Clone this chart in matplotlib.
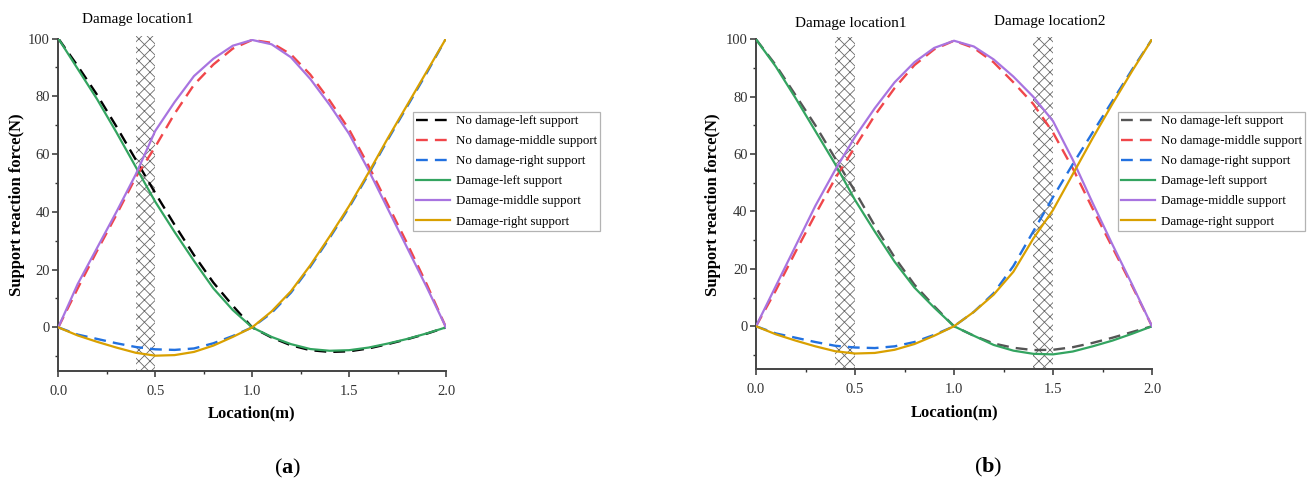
import numpy as np
import matplotlib.pyplot as plt
from matplotlib.patches import Rectangle

plt.rcParams['font.family'] = 'Liberation Serif'
plt.rcParams['mathtext.fontset'] = 'custom'
plt.rcParams['mathtext.rm'] = 'Liberation Serif'
plt.rcParams['mathtext.bf'] = 'Liberation Serif:bold'
plt.rcParams['hatch.linewidth'] = 0.6
plt.rcParams['hatch.color'] = '#6a6a6a'

# load position along the beam (m)
location = [0.0, 0.1, 0.2, 0.3, 0.4, 0.5, 0.6, 0.7, 0.8, 0.9, 1.0,
            1.1, 1.2, 1.3, 1.4, 1.5, 1.6, 1.7, 1.8, 1.9, 2.0]

# (a) one damaged zone
a_nd_left = [100, 90.5, 80.5, 69.5, 58, 46.5, 35.5, 25, 15.5, 7.5, 0,
             -3.5, -6.2, -7.9, -8.5, -8.3, -7.3, -5.8, -4.1, -2.2, 0]
a_nd_mid = [0, 13.5, 26.5, 39, 52, 62.5, 74, 84, 91, 96.5, 99.5,
            98.5, 94.5, 87.5, 78.5, 68.5, 56, 42.5, 29, 15, 0]
a_nd_right = [0, -2.5, -4, -5.5, -6.8, -7.6, -7.8, -7.3, -5.5, -3, 0,
              5, 12, 21, 31, 41.5, 53, 65, 76.5, 88, 100]
a_dm_left = [100, 89.5, 79, 67.5, 55.5, 43.5, 33, 23, 13.5, 6, 0,
             -3.3, -5.8, -7.5, -8.1, -7.9, -7.0, -5.6, -4.0, -2.1, 0]
a_dm_mid = [0, 15, 27.5, 40, 53, 68, 78, 87, 93, 97.5, 99.5,
            98, 93.5, 86, 77, 67, 54.5, 41, 27.5, 14, 0]
a_dm_right = [0, -2.8, -5, -7, -8.8, -9.8, -9.6, -8.5, -6.3, -3.3, 0,
              5.5, 12.5, 21.5, 31.5, 42, 53.5, 65.5, 77, 88.5, 100]

# (b) two damaged zones
b_nd_left = [100, 91, 80.5, 70, 58.5, 47, 35, 24, 14.5, 7, 0,
             -3.3, -6, -7.5, -8.3, -8.2, -7.3, -5.8, -4, -2, 0]
b_nd_mid = [0, 12.5, 26, 39, 51.5, 62.5, 73.5, 83, 91, 96.5, 99.5,
            97, 92, 85, 77.5, 67.5, 55, 41, 27.5, 14, 0]
b_nd_right = [0, -2.5, -4, -5.5, -6.8, -7.4, -7.6, -7, -5.5, -3, 0,
              5, 11.5, 21, 33, 45, 56.5, 67.5, 78.5, 89.5, 100]
b_dm_left = [100, 90.5, 79.5, 68, 56.5, 44, 33, 22.5, 13.5, 6.5, 0,
             -3.3, -6.5, -8.5, -9.6, -9.8, -8.8, -7, -5, -2.6, 0]
b_dm_mid = [0, 14, 28, 42, 54.5, 66, 76, 85, 92, 97, 99.5,
            97.5, 93, 87, 80, 71.5, 58, 43, 28.5, 14.5, 0]
b_dm_right = [0, -2.8, -5, -7, -8.7, -9.5, -9.3, -8.2, -6.2, -3.3, 0,
              5, 11, 19, 30.5, 40.5, 53, 65.5, 77.5, 89, 100]

labels = ['No damage-left support', 'No damage-middle support', 'No damage-right support',
          'Damage-left support', 'Damage-middle support', 'Damage-right support']
col_red = '#f0464a'
col_blue = '#2271e0'
col_green = '#33a460'
col_purple = '#a874e0'
col_gold = '#d9a000'

W, H = 1313, 484
fig = plt.figure(figsize=(W / 100, H / 100), dpi=100)


def px_axes(x0, x1, y0, y1):
    return fig.add_axes([x0 / W, 1 - y1 / H, (x1 - x0) / W, (y1 - y0) / H])


def draw_panel(ax, nd, dm, left_col, zones):
    # damaged zones first so curves sit on top
    for z0, z1 in zones:
        ax.add_patch(Rectangle((z0, -15), z1 - z0, 115.7, facecolor='none',
                               edgecolor='#6a6a6a', hatch='xxx', linewidth=0,
                               zorder=1, clip_on=False))
    ds = (0, (5, 3))
    ax.plot(location, nd[0], color=left_col, ls=ds, lw=1.7, label=labels[0], zorder=2)
    ax.plot(location, nd[1], color=col_red, ls=ds, lw=1.7, label=labels[1], zorder=2)
    ax.plot(location, nd[2], color=col_blue, ls=ds, lw=1.7, label=labels[2], zorder=2)
    ax.plot(location, dm[0], color=col_green, lw=1.6, label=labels[3], zorder=3)
    ax.plot(location, dm[1], color=col_purple, lw=1.6, label=labels[4], zorder=3)
    ax.plot(location, dm[2], color=col_gold, lw=1.6, label=labels[5], zorder=3)

    ax.set_xlim(0, 2)
    ax.set_ylim(-15, 100)
    ax.set_xticks([0, 0.5, 1.0, 1.5, 2.0])
    ax.set_xticks([0.25, 0.75, 1.25, 1.75], minor=True)
    ax.set_yticks([0, 20, 40, 60, 80, 100])
    ax.set_yticks([-10, 10, 30, 50, 70, 90], minor=True)
    ax.set_xticklabels(['0.0', '0.5', '1.0', '1.5', '2.0'], fontsize=10.5, color='#333333')
    ax.set_yticklabels(['0', '20', '40', '60', '80', '100'], fontsize=10.5, color='#333333')
    for s in ['top', 'right']:
        ax.spines[s].set_visible(False)
    for s in ['left', 'bottom']:
        ax.spines[s].set_linewidth(1.4)
        ax.spines[s].set_color('#444444')
    ax.tick_params(which='major', direction='out', length=4, width=1.1, color='#333333')
    ax.tick_params(which='minor', direction='out', length=2.5, width=1.0, color='#333333')
    ax.tick_params(axis='x', pad=6)
    ax.tick_params(axis='y', pad=2)


ax1 = px_axes(58.3, 446, 38.5, 370.7)
draw_panel(ax1, [a_nd_left, a_nd_mid, a_nd_right], [a_dm_left, a_dm_mid, a_dm_right],
           '#000000', [(0.4, 0.5)])
ax2 = px_axes(756, 1152, 39.3, 369.3)
draw_panel(ax2, [b_nd_left, b_nd_mid, b_nd_right], [b_dm_left, b_dm_mid, b_dm_right],
           '#555555', [(0.4, 0.5), (1.4, 1.5)])

for ax, lx in [(ax1, 413), (ax2, 1118)]:
    leg = ax.legend(loc='upper left', bbox_to_anchor=(lx / W, 1 - 112 / H),
                    bbox_transform=fig.transFigure, fontsize=9.3, frameon=True,
                    fancybox=False, borderpad=0.25, borderaxespad=0,
                    labelspacing=0.62, handlelength=2.6, handletextpad=0.45)
    leg.get_frame().set_edgecolor('#a0a0a0')
    leg.get_frame().set_linewidth(0.9)

# axis titles
fig.text(252 / W, 1 - 413 / H, 'Location(m)', ha='center', va='center',
         fontsize=12, fontweight='bold')
fig.text(955 / W, 1 - 412 / H, 'Location(m)', ha='center', va='center',
         fontsize=12, fontweight='bold')
fig.text(17 / W, 1 - 205 / H, 'Support reaction force(N)', ha='center', va='center',
         rotation=90, fontsize=12, fontweight='bold')
fig.text(713 / W, 1 - 205 / H, 'Support reaction force(N)', ha='center', va='center',
         rotation=90, fontsize=12, fontweight='bold')

# damage zone captions
fig.text(138 / W, 1 - 20 / H, 'Damage location1', ha='center', va='center', fontsize=11)
fig.text(851 / W, 1 - 24 / H, 'Damage location1', ha='center', va='center', fontsize=11)
fig.text(1050 / W, 1 - 21 / H, 'Damage location2', ha='center', va='center', fontsize=11)

# panel tags
fig.text(288 / W, 1 - 468 / H, r'($\mathbf{a}$)', ha='center', va='center', fontsize=16)
fig.text(988 / W, 1 - 467 / H, r'($\mathbf{b}$)', ha='center', va='center', fontsize=16)

fig.savefig('out.png', dpi=100)
